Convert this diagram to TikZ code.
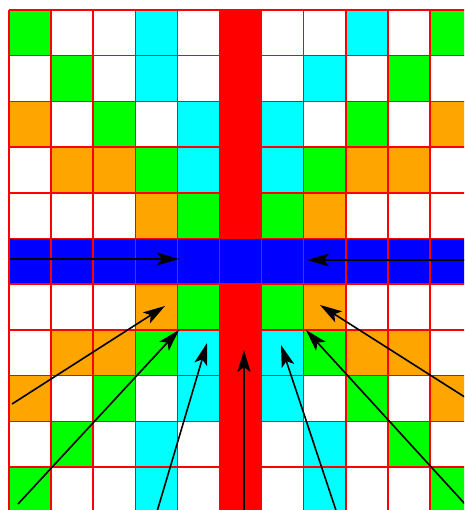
\documentclass[tikz,border=0pt]{standalone}
\usepackage{tikz}
\usetikzlibrary{arrows.meta}
\definecolor{colG}{RGB}{0,255,0}
\definecolor{colC}{RGB}{0,255,255}
\definecolor{colO}{RGB}{255,165,0}
\definecolor{colR}{RGB}{255,0,0}
\definecolor{colB}{RGB}{0,0,255}
\definecolor{colW}{RGB}{255,255,255}
\tikzset{
  gridline/.style={draw=colR,line width=1.5pt},
  arr/.style={-{Stealth[length=22pt,width=13pt,inset=5pt]},line width=1.6pt,draw=black,fill=black},
}
\begin{document}
\begin{tikzpicture}[x=1pt,y=-1pt]
  \useasboundingbox (0,0) rectangle (464,510);
  \clip (0,0) rectangle (464,510);
  \fill[white] (0,0) rectangle (464,510);
  % the cells, row by row
  \foreach \cells [count=\r from 0] in {
      {G,W,W,C,W,R,W,W,C,W,G},
      {W,G,W,C,W,R,W,C,W,G,W},
      {O,W,G,W,C,R,C,W,G,W,O},
      {W,O,O,G,C,R,C,G,O,O,W},
      {W,W,W,O,G,R,G,O,W,W,W},
      {B,B,B,B,B,B,B,B,B,B,B},
      {W,W,W,O,G,R,G,O,W,W,W},
      {W,O,O,G,C,R,C,G,O,O,W},
      {O,W,G,W,C,R,C,W,G,W,O},
      {W,G,W,C,W,R,W,C,W,G,W},
      {G,W,W,C,W,R,W,C,W,W,G}} {
    \foreach \tone [count=\k from 0] in \cells {
      \fill[col\tone] ({9+\k*42.1},{10+\r*45.7}) rectangle ++(42.1,45.7);
    }
  }
  % grid lines
  \foreach \k in {0,...,11}
    \draw[gridline] ({9+\k*42.1},10) -- ++(0,502.7);
  \foreach \r in {0,...,11}
    \draw[gridline] (9,{10+\r*45.7}) -- ++(463.1,0);
  % arrow ends
  \coordinate (fromW) at (10,259);    \coordinate (toW) at (179,259);
  \coordinate (fromE) at (473,260);   \coordinate (toE) at (307,260);
  \coordinate (fromSW1) at (12,404);  \coordinate (toSW1) at (165,306);
  \coordinate (fromSW2) at (18,504);  \coordinate (toSW2) at (179,330);
  \coordinate (fromS1) at (156,515);  \coordinate (toS1) at (207,343);
  \coordinate (fromS) at (244,515);   \coordinate (toS) at (244,350);
  \coordinate (fromS2) at (337.5,515);\coordinate (toS2) at (281,345);
  \coordinate (fromSE2) at (465,504); \coordinate (toSE2) at (306,330);
  \coordinate (fromSE1) at (471,401); \coordinate (toSE1) at (320,305);
  % arrows towards the centre
  \draw[arr] (fromW) -- (toW);
  \draw[arr] (fromE) -- (toE);
  \draw[arr] (fromSW1) -- (toSW1);
  \draw[arr] (fromSW2) -- (toSW2);
  \draw[arr] (fromS1) -- (toS1);
  \draw[arr] (fromS) -- (toS);
  \draw[arr] (fromS2) -- (toS2);
  \draw[arr] (fromSE2) -- (toSE2);
  \draw[arr] (fromSE1) -- (toSE1);
\end{tikzpicture}
\end{document}
